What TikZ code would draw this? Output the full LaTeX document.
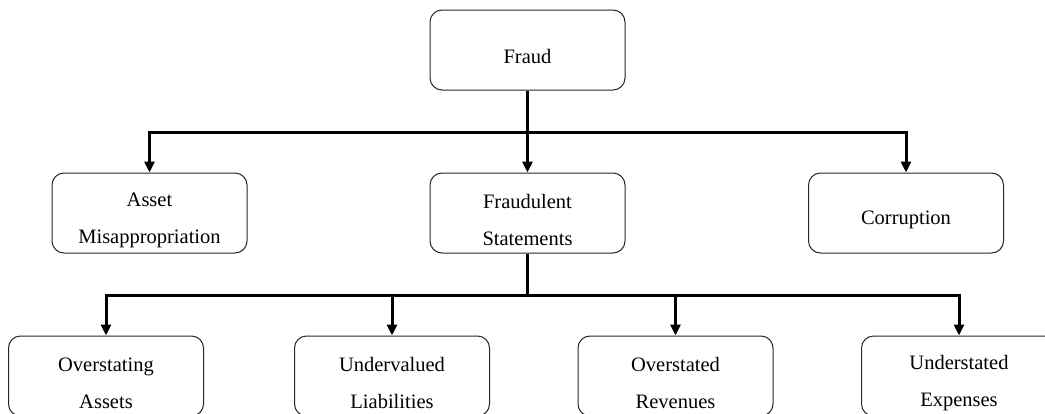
\documentclass[tikz,border=0pt]{standalone}
\usepackage{fontspec}
\setmainfont{Liberation Serif}
\usetikzlibrary{arrows.meta}
\newcommand\mytopstrut{\rule{0pt}{28pt}}
\begin{document}
\begin{tikzpicture}[x=1pt,y=-1pt,
  box/.style={draw=black!85,line width=1pt,rounded corners=12pt,
    minimum width=195pt,minimum height=80pt,align=center,inner sep=0pt,
    font=\fontsize{20.5}{37}\selectfont},
  conn/.style={line width=3pt,-{Triangle[length=11pt,width=10pt]}},
  link/.style={line width=3pt}]
\clip (0,0) rectangle (1045,413);
\node[box] (fraud) at (527.5,50) {\mytopstrut Fraud};
\node[box] (asset) at (149.5,213) {\mytopstrut Asset\\Misappropriation};
\node[box] (fs) at (527.5,213) {\mytopstrut Fraudulent\\Statements};
\node[box] (corr) at (906,213) {\mytopstrut Corruption};
\node[box] (oa) at (106,376) {\mytopstrut Overstating\\Assets};
\node[box] (ul) at (392,376) {\mytopstrut Undervalued\\Liabilities};
\node[box] (orv) at (675.5,376) {\mytopstrut Overstated\\Revenues};
\node[box] (ue) at (959,376) {\mytopstrut Understated\\Expenses};
\coordinate (j1) at (527.5,132);
\coordinate (j2) at (527.5,295);
\draw[link] (fraud.south) -- (j1);
\draw[conn] (j1) -| (asset.north);
\draw[conn] (j1) -| (corr.north);
\draw[conn] (j1) -- (fs.north);
\draw[link] (fs.south) -- (j2);
\draw[conn] (j2) -| (oa.north);
\draw[conn] (j2) -| (ul.north);
\draw[conn] (j2) -| (orv.north);
\draw[conn] (j2) -| (ue.north);
\end{tikzpicture}
\end{document}
